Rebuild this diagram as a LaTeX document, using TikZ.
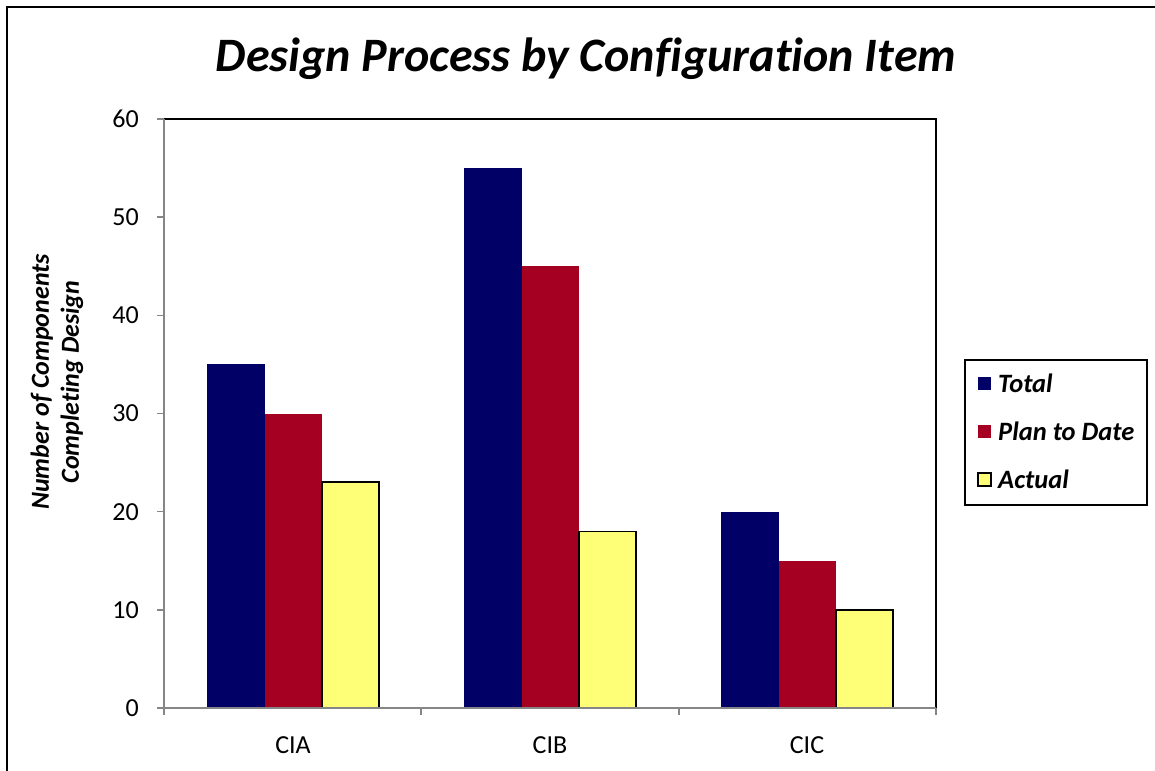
\documentclass[tikz,border=0pt]{standalone}
\usepackage{fontspec}
\setmainfont[Ligatures=NoCommon]{Carlito}
\definecolor{navy}{HTML}{000066}
\definecolor{wine}{HTML}{A50021}
\definecolor{lemon}{HTML}{FFFF77}
\definecolor{axisgray}{HTML}{868686}
\begin{document}
\begin{tikzpicture}[x=1pt,y=-1pt,
  tot/.style={fill=navy,draw=none},
  pln/.style={fill=wine,draw=none},
  act/.style={fill=lemon,draw=black,line width=1.5pt},
  ticklab/.style={font=\fontsize{26}{30}\selectfont,anchor=east,inner sep=0pt},
  catlab/.style={font=\fontsize{26}{30}\selectfont,inner sep=0pt},
  legtext/.style={font=\fontsize{26.5}{30}\selectfont\bfseries\itshape,anchor=west,inner sep=0pt},
  axisline/.style={draw=axisgray,line width=1.5pt}]
\useasboundingbox (0,0) rectangle (1155,770);
\fill[white] (0,0) rectangle (1155,770);
\draw[line width=2pt] (7,7) rectangle (1170,790);
% title
\node[font=\fontsize{48}{54}\selectfont\bfseries\itshape] (title) at (586,59) {Design Process by Configuration Item};
% plot area
\draw[black,line width=1.5pt] (164,119) -- (936,119) -- (936,708);
% CIA
\fill[tot] (207,708) rectangle (265,364.4);
\fill[pln] (265,708) rectangle (322,413.5);
\draw[act] (322,708) rectangle (379,482.2);
% CIB
\fill[tot] (464,708) rectangle (522,168.1);
\fill[pln] (522,708) rectangle (579,266.2);
\draw[act] (579,708) rectangle (636,531.3);
% CIC
\fill[tot] (721,708) rectangle (779,511.7);
\fill[pln] (779,708) rectangle (836,560.7);
\draw[act] (836,708) rectangle (893,609.8);
% axes
\draw[axisline] (164,119) -- (164,708) -- (936,708);
\foreach \v/\yy in {0/708,10/609.8,20/511.7,30/413.5,40/315.3,50/217.2,60/119}{
  \draw[axisline] (157,\yy) -- (164,\yy);
  \node[ticklab] (t\v) at (139,\yy) {\v};
}
\foreach \xx in {164,421,679,936}{\draw[axisline] (\xx,708) -- (\xx,715);}
\node[catlab] (cia) at (293,745) {CIA};
\node[catlab] (cib) at (550,745) {CIB};
\node[catlab] (cic) at (807,745) {CIC};
% y label
\node[rotate=90,align=center,font=\fontsize{26}{30}\selectfont\bfseries\itshape] (ylab) at (57,382) {Number of Components\\Completing Design};
% legend
\draw[black,line width=1.5pt] (965,360) rectangle (1147,505);
\fill[navy] (978,377) rectangle (991,390);
\node[legtext] (l1) at (998,383.5) {Total};
\fill[wine] (978,425) rectangle (991,438);
\node[legtext] (l2) at (998,431.5) {Plan to Date};
\draw[fill=lemon,draw=black,line width=1.2pt] (978,473) rectangle (991,486);
\node[legtext] (l3) at (998,479.5) {Actual};
\end{tikzpicture}
\end{document}
